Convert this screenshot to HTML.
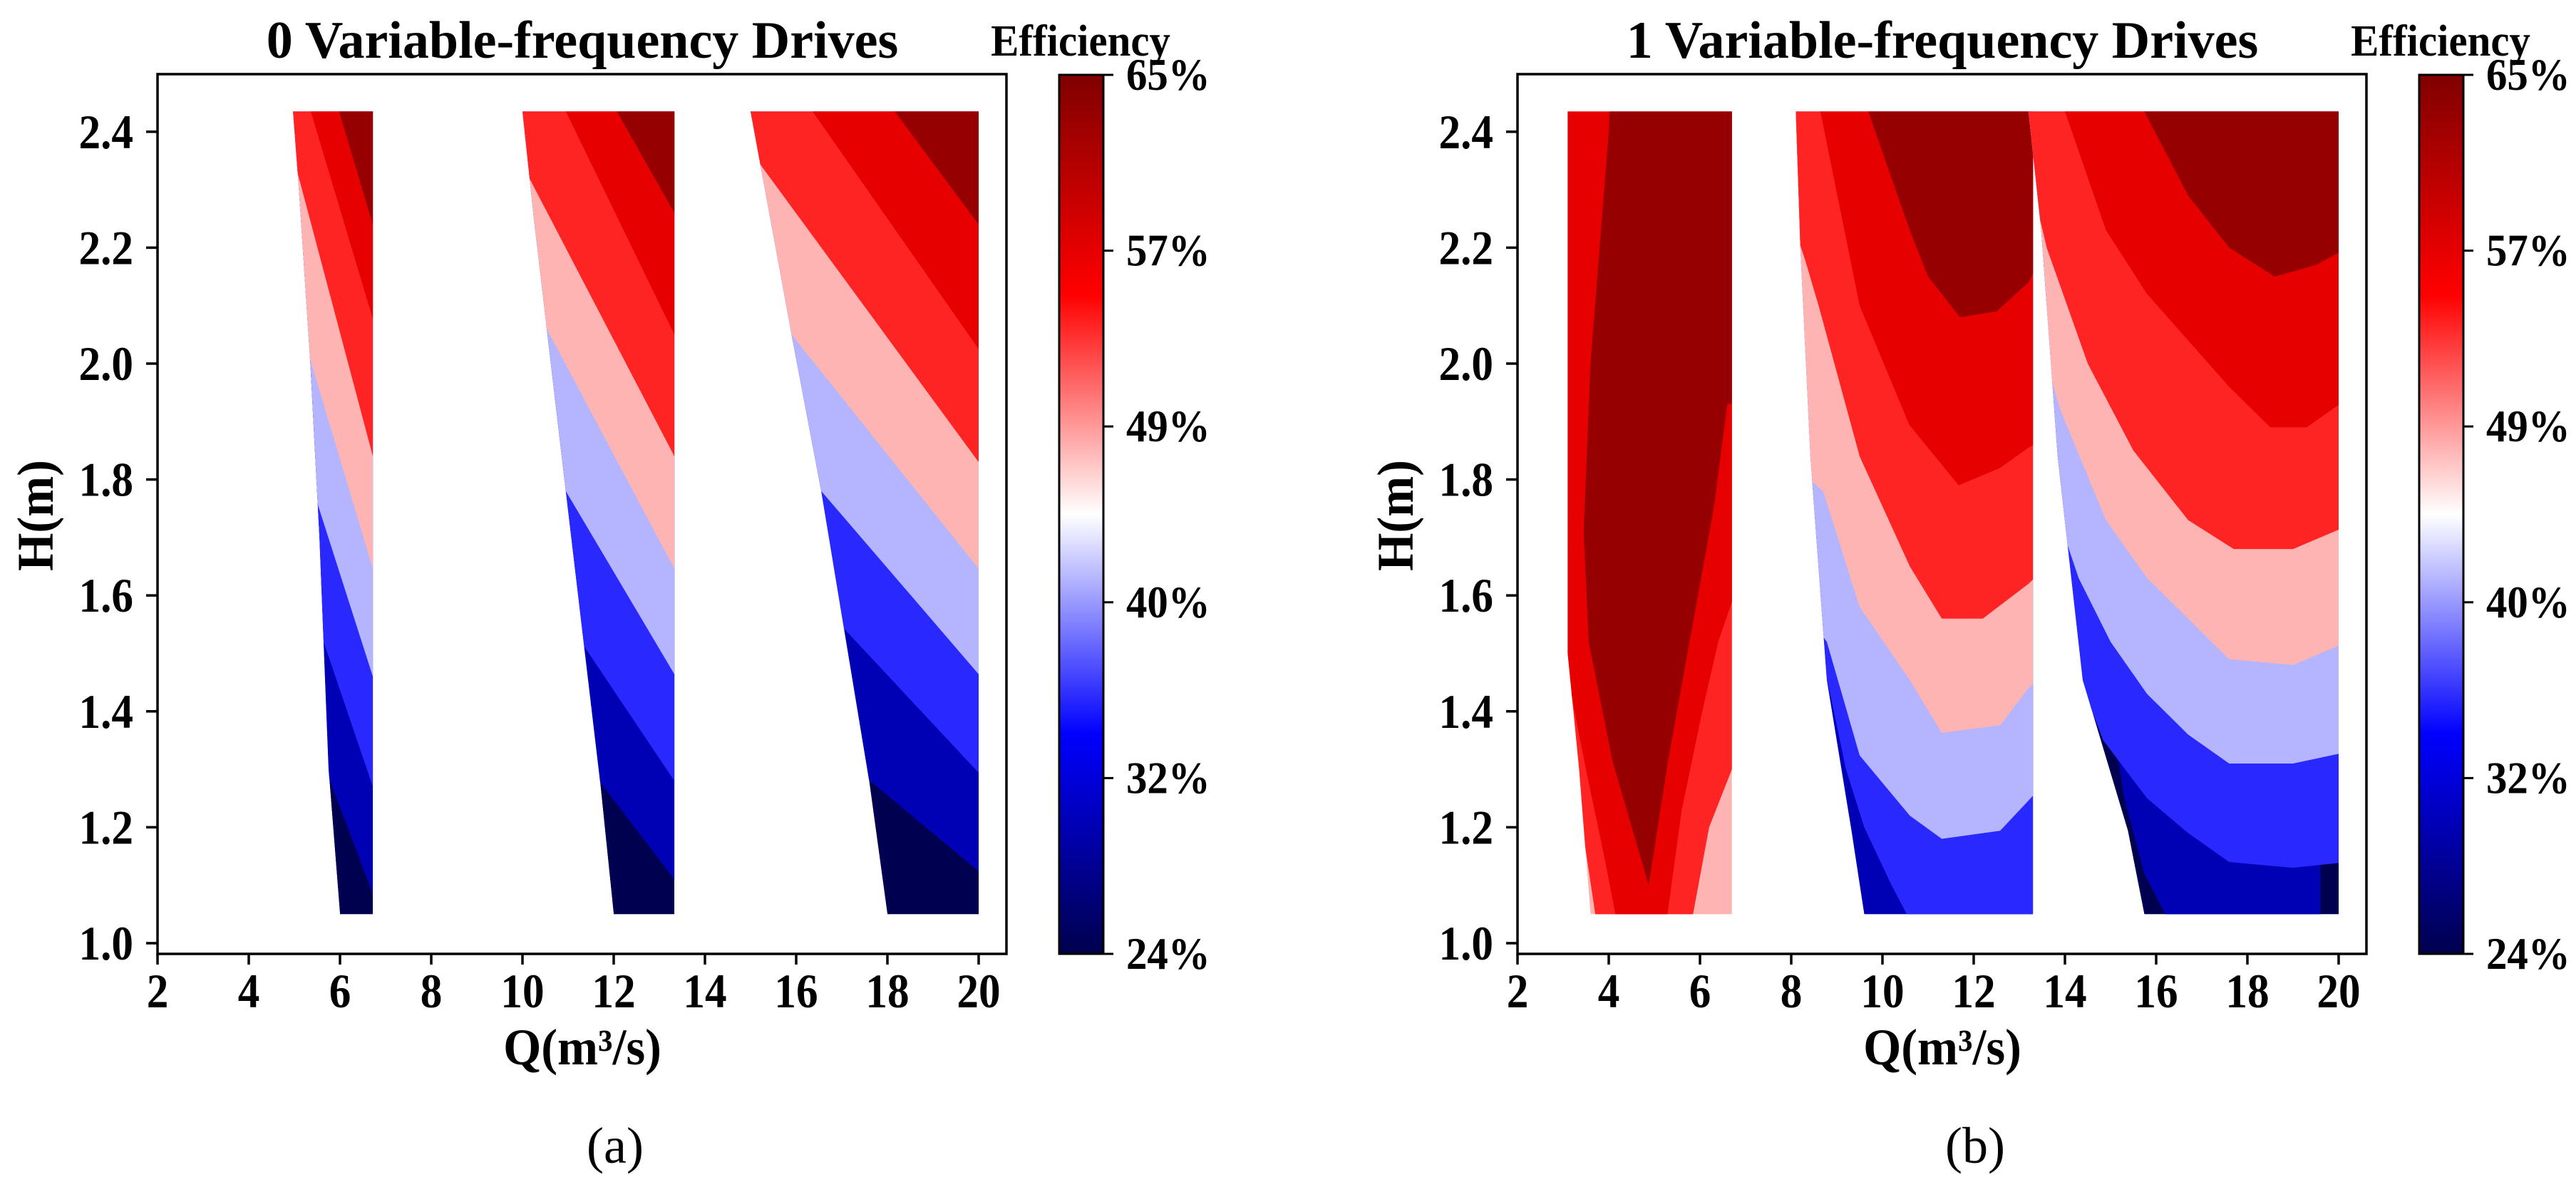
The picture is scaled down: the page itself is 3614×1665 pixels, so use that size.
<!DOCTYPE html>
<html><head><meta charset="utf-8"><style>
html,body{margin:0;padding:0;background:#fff;overflow:hidden;width:3614px;height:1665px;}
svg{display:block;}
text{font-family:"Liberation Serif",serif;fill:#000;}
</style></head><body>
<svg id="fig" width="3614" height="1665" viewBox="0 0 3614 1665" xmlns="http://www.w3.org/2000/svg">
<defs>
<linearGradient id="cbgrad" x1="0" y1="1" x2="0" y2="0">
<stop offset="0" stop-color="#00004d"/><stop offset="0.25" stop-color="#0000ff"/><stop offset="0.5" stop-color="#ffffff"/><stop offset="0.75" stop-color="#ff0000"/><stop offset="1" stop-color="#800000"/>
</linearGradient>
</defs>
</svg>
<script>
// ---- data ----
const xTicks = [2,4,6,8,10,12,14,16,18,20];
const yTicks = [1.0,1.2,1.4,1.6,1.8,2.0,2.2,2.4];
const cbarLabels = ["24%","32%","40%","49%","57%","65%"];
const levelColors = ["#000050","#0000b4","#2828ff","#b4b4ff","#ffb4b4","#ff2424","#e60000","#960000"];
const panelTitles = ["0 Variable-frequency Drives","1 Variable-frequency Drives"];
const panelCaptions = ["(a)","(b)"];

// panel (a) regions: outline [Q,H]
const a_r1_outline = [[4.97,2.435],[6.72,2.435],[6.72,1.05],[6.0,1.05],[5.75,1.3],[5.55,1.7],[5.35,2.0],[5.1,2.3]];
const a_r2_outline = [[10.0,2.435],[13.33,2.435],[13.33,1.05],[12.0,1.05],[11.7,1.28],[10.95,1.78],[10.25,2.25]];
const a_r3_outline = [[15.0,2.435],[20.0,2.435],[20.0,1.05],[18.0,1.05],[17.6,1.28],[16.55,1.78],[15.9,2.05]];
// boundaries: [level, polyline]; area above polyline painted with level colour
const a_r1_bounds = [[1,[[5.78,1.28],[6.72,1.085]]],[2,[[5.64,1.52],[6.72,1.27]]],[3,[[5.5,1.76],[6.72,1.46]]],[4,[[5.3,2.02],[6.72,1.646]]],[5,[[5.0,2.35],[6.72,1.84]]],[6,[[5.36,2.435],[6.72,2.077]]],[7,[[5.98,2.435],[6.72,2.24]]]];
const a_r2_bounds = [[1,[[11.68,1.28],[13.33,1.11]]],[2,[[11.2,1.53],[13.33,1.28]]],[3,[[10.95,1.78],[13.33,1.464]]],[4,[[10.6,2.05],[13.33,1.646]]],[5,[[10.15,2.32],[13.33,1.84]]],[6,[[10.95,2.435],[13.33,2.05]]],[7,[[12.07,2.435],[13.33,2.26]]]];
const a_r3_bounds = [[1,[[17.62,1.28],[20,1.124]]],[2,[[17.2,1.53],[20,1.294]]],[3,[[16.55,1.78],[20,1.464]]],[4,[[15.9,2.05],[20,1.646]]],[5,[[15.2,2.345],[20,1.83]]],[6,[[16.36,2.435],[20,2.025]]],[7,[[18.16,2.435],[20,2.24]]]];

// panel (b) regions
const b_r1_outline = [[3.1,2.435],[6.7,2.435],[6.7,1.05],[3.6,1.05],[3.35,1.3],[3.1,1.5]];
const b_r2_outline = [[8.1,2.435],[13.3,2.435],[13.3,1.05],[9.6,1.05],[9.32,1.194],[8.78,1.454],[8.42,1.84],[8.2,2.2]];
const b_r3_outline = [[13.2,2.435],[20,2.435],[20,1.05],[15.74,1.05],[15.38,1.194],[14.39,1.454],[13.84,1.84],[13.48,2.23]];
const b_r1_bounds = [
 [5,[[2,1.25],[3.4,1.21],[3.8,1.0],[5.73,1.0],[6.2,1.2],[6.7,1.30],[8,1.32]]],
 [6,[[2,1.5],[3.0,1.5],[3.5,1.3],[3.9,1.15],[4.27,1.0],[5.2,1.0],[5.6,1.23],[6.05,1.4],[6.4,1.52],[6.75,1.6],[8,1.6]]],
 [7,[[4.1,2.6],[4.0,2.4],[3.8,2.2],[3.6,2.0],[3.45,1.71],[3.56,1.52],[4.08,1.315],[4.875,1.10],[5.3,1.315],[5.77,1.52],[6.3,1.75],[6.6,1.93],[8,1.946]]]];
const b_r2_bounds = [
 [2,[[8.8,1.45],[9.2,1.3],[9.6,1.2],[10.2,1.1],[10.6,1.04],[10.8,0.9]]],
 [3,[[8.5,1.55],[8.78,1.52],[9.5,1.324],[10.6,1.22],[11.3,1.18],[12.58,1.194],[13.2,1.246],[13.6,1.28]]],
 [4,[[8.4,1.8],[8.7,1.78],[9.5,1.58],[10.6,1.454],[11.3,1.363],[12.58,1.376],[13.2,1.44],[13.6,1.47]]],
 [5,[[8.0,2.25],[8.3,2.18],[8.6,2.1],[9.5,1.84],[10.6,1.65],[11.3,1.56],[12.2,1.56],[13.2,1.62],[13.6,1.65]]],
 [6,[[8.4,2.6],[8.6,2.45],[9.5,2.1],[10.59,1.894],[11.67,1.79],[12.58,1.82],[13.2,1.855],[13.6,1.87]]],
 [7,[[9.6,2.6],[9.69,2.435],[10.6,2.23],[11.0,2.15],[11.7,2.08],[12.5,2.09],[13.2,2.14],[13.6,2.2]]]];
const b_r3_bounds = [
 [1,[[15.0,1.4],[15.3,1.25],[15.74,1.12],[16.2,1.05],[16.4,0.9]]],
 [2,[[14.5,1.42],[14.84,1.35],[15.8,1.25],[16.7,1.19],[17.6,1.14],[19,1.13],[20.2,1.14]]],
 [3,[[14.0,1.7],[14.3,1.63],[15.0,1.52],[15.8,1.43],[16.7,1.36],[17.6,1.31],[19.0,1.31],[20.2,1.33]]],
 [4,[[13.6,2.0],[13.9,1.92],[14.9,1.73],[15.8,1.63],[16.7,1.56],[17.6,1.49],[19.0,1.48],[20.2,1.52]]],
 [5,[[13.3,2.3],[13.6,2.2],[14.5,2.0],[15.5,1.85],[16.7,1.73],[17.7,1.68],[19.0,1.68],[20.2,1.72]]],
 [6,[[13.9,2.6],[14.0,2.435],[14.9,2.23],[15.8,2.12],[16.7,2.04],[17.6,1.96],[18.5,1.89],[19.3,1.89],[20.2,1.94]]],
 [7,[[15.6,2.6],[15.74,2.435],[16.7,2.29],[17.6,2.2],[18.6,2.15],[19.5,2.17],[20.2,2.2]]]];

// base (lowest) level per region
const a_baseLevels = [0,0,0];
const b_baseLevels = [4,1,0];

const panelRegions = [
  [[a_r1_outline,a_r1_bounds],[a_r2_outline,a_r2_bounds],[a_r3_outline,a_r3_bounds]],
  [[b_r1_outline,b_r1_bounds],[b_r2_outline,b_r2_bounds],[b_r3_outline,b_r3_bounds]]
];
const panelBases = [a_baseLevels, b_baseLevels];
const panelOffsets = [0,1908];

// ---- drawing ----
const NS = "http://www.w3.org/2000/svg";
const svg = document.getElementById("fig");
function mk(tag, attrs, parent){
  const e = document.createElementNS(NS, tag);
  for (const k in attrs) e.setAttribute(k, attrs[k]);
  (parent||svg).appendChild(e);
  return e;
}
function txt(s, x, y, size, anchor, weight, parent, sx){
  const g = mk("g", {transform:`translate(${x},${y}) scale(${sx||0.9},1)`}, parent);
  const t = mk("text", {x:0, y:0, "font-size":size, "text-anchor":anchor, "font-weight":weight}, g);
  t.textContent = s;
  return t;
}
function aboveLine(pts){
  const p0 = pts[0], p1 = pts[1];
  const q0 = pts[pts.length-1], q1 = pts[pts.length-2];
  function ext(a,b){ const dx=a[0]-b[0], dy=a[1]-b[1]; const L=Math.hypot(dx,dy)||1; return [a[0]+dx/L*4, a[1]+dy/L*4]; }
  const s = ext(p0,p1), e = ext(q0,q1);
  return [s, ...pts, e, [e[0],6], [s[0],6]];
}

panelOffsets.forEach((ox, pi) => {
  const X = q => ox + 221 + (q - 2) * 64;
  const Y = h => 1323 - (h - 1) * 813;
  const L = ox + 221, R = ox + 1412, T = 104, B = 1338;
  const panel = mk("g", {});
  
  

  const plotClip = mk("clipPath", {id:"pc"+pi}, svg.querySelector("defs"));
  mk("rect", {x:L, y:T, width:R-L, height:B-T}, plotClip);
  const plot = mk("g", {"clip-path":`url(#pc${pi})`}, panel);
  
  

  panelRegions[pi].forEach((reg, ri) => {
    const [outline, bounds] = reg;
    const cp = mk("clipPath", {id:`rc${pi}_${ri}`}, svg.querySelector("defs"));
    const ptsStr = outline.map(p => X(p[0]) + "," + Y(p[1])).join(" ");
    mk("polygon", {points: ptsStr}, cp);
    const g = mk("g", {"clip-path":`url(#rc${pi}_${ri})`}, plot);
    
    
    const base = mk("polygon", {points: ptsStr, fill: levelColors[panelBases[pi][ri]]}, g);
    
    
    bounds.forEach(b => {
      const poly = aboveLine(b[1]);
      const el = mk("polygon", {points: poly.map(p => X(p[0]) + "," + Y(p[1])).join(" "), fill: levelColors[b[0]]}, g);
      
      
    });
  });

  const frame = mk("rect", {x:L, y:T, width:R-L, height:B-T, fill:"none", stroke:"#000", "stroke-width":3.5}, panel);
  
  

  xTicks.forEach(v => {
    const x = X(v);
    mk("line", {x1:x, y1:B, x2:x, y2:B+15, stroke:"#000", "stroke-width":3.5}, panel);
    const t = txt(String(v), x, 1413, 68, "middle", "bold", panel);
    
    
  });
  yTicks.forEach(v => {
    const y = Y(v);
    mk("line", {x1:L-16, y1:y, x2:L, y2:y, stroke:"#000", "stroke-width":3.5}, panel);
    const t = txt(v.toFixed(1), L-34, y+23, 68, "end", "bold", panel);
    
    
  });

  const title = txt(panelTitles[pi], ox + 817, 81, 74, "middle", "bold", panel, 1.0);
  
  
  const xl = txt("Q(m³/s)", ox + 817, 1493, 72, "middle", "bold", panel, 0.95);
  
  
  const ylg = mk("g", {transform:`translate(${ox + 74},723) rotate(-90) scale(0.95,1)`}, panel);
  const yl = mk("text", {x:0, y:0, "font-size":72, "text-anchor":"middle", "font-weight":"bold"}, ylg);
  yl.textContent = "H(m)";
  
  
  const cap = txt(panelCaptions[pi], ox + 863, 1631, 72, "middle", "normal", panel, 1.0);
  
  

  // colorbar
  const cb = mk("g", {}, panel);
  
  
  const cbL = ox + 1486, cbW = 62, cbT = 105, cbB = 1338;
  mk("rect", {x:cbL, y:cbT, width:cbW, height:cbB-cbT, fill:"url(#cbgrad)", stroke:"#000", "stroke-width":3}, cb);
  cbarLabels.forEach((s, i) => {
    const y = cbB - i * (cbB - cbT) / (cbarLabels.length - 1);
    mk("line", {x1:cbL+cbW, y1:y, x2:cbL+cbW+14, y2:y, stroke:"#000", "stroke-width":3}, cb);
    const t = txt(s, ox + 1580, y + 21, 64, "start", "bold", cb, 0.92);
    
    
  });
  const eff = txt("Efficiency", ox + 1516, 78, 62, "middle", "bold", cb, 0.95);
  
  
});
</script>
</body></html>
